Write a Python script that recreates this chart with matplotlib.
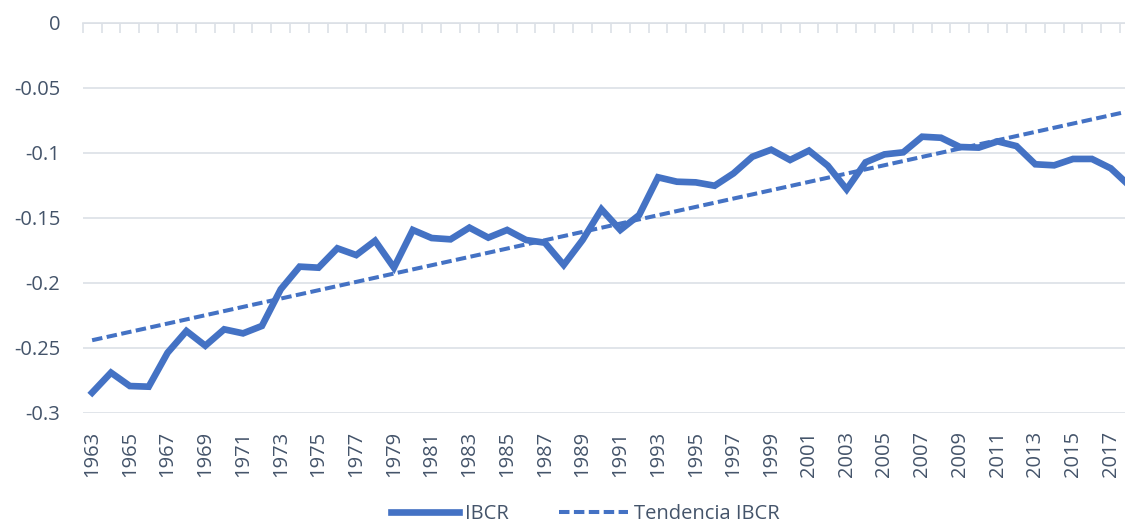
import numpy as np
import matplotlib.pyplot as plt

plt.rcParams["font.family"] = ["Open Sans", "DejaVu Sans"]
plt.rcParams["axes.unicode_minus"] = False

# IBCR series, 1963-2018
years = list(range(1963, 2019))
ibcr = [
    -0.2846, -0.2692, -0.2795, -0.2800, -0.2539, -0.2372, -0.2485, -0.2359,
    -0.2390, -0.2333, -0.2051, -0.1877, -0.1885, -0.1736, -0.1788, -0.1678,
    -0.1885, -0.1595, -0.1657, -0.1667, -0.1577, -0.1654, -0.1595, -0.1672,
    -0.1693, -0.1864, -0.1672, -0.1436, -0.1595, -0.1480, -0.1190, -0.1224,
    -0.1229, -0.1255, -0.1160, -0.1032, -0.0978, -0.1057, -0.0985, -0.1101,
    -0.1283, -0.1075, -0.1014, -0.0998, -0.0878, -0.0886, -0.0957, -0.0962,
    -0.0914, -0.0950, -0.1090, -0.1098, -0.1049, -0.1049, -0.1121, -0.1257,
]
yticks = [0, -0.05, -0.1, -0.15, -0.2, -0.25, -0.3]
ytick_labels = ["0", "-0.05", "-0.1", "-0.15", "-0.2", "-0.25", "-0.3"]

blue = "#4472C4"
grid_color = "#DCE0E6"
text_color = "#44546A"

x = np.arange(len(years))
# linear trend, as in the spreadsheet trendline
coef = np.polyfit(x, ibcr, 1)
trend = np.polyval(coef, x)

fig = plt.figure(figsize=(11.25, 5.26), dpi=100)
ax = fig.add_axes([0.0735, 0.2154, 0.939, 0.7418])

ax.plot(x, ibcr, color=blue, lw=4.8, solid_joinstyle="miter", label="IBCR", zorder=3)
ax.plot(x, trend, color=blue, lw=2.9, linestyle=(0, (2.6, 1.1)), label="Tendencia IBCR", zorder=3)

ax.set_xlim(-0.5, len(years) - 0.5)
ax.set_ylim(-0.3, 0)

ax.set_yticks(yticks)
ax.set_yticklabels(ytick_labels)
ax.grid(axis="y", color=grid_color, lw=1.2)
ax.set_axisbelow(True)

ax.set_xticks(x[::2])
ax.set_xticklabels([str(y) for y in years[::2]], rotation=90)
ax.set_xticks(np.arange(-0.5, len(years), 1), minor=True)
ax.tick_params(axis="x", which="major", length=0, pad=13, labelsize=14.5, colors=text_color)
ax.tick_params(axis="x", which="minor", top=True, bottom=False, direction="in",
               length=7, width=1.2, color=grid_color)
ax.tick_params(axis="y", length=0, pad=16, labelsize=14.5, colors=text_color)

for s in ["left", "right", "bottom"]:
    ax.spines[s].set_visible(False)
ax.spines["top"].set_color(grid_color)
ax.spines["top"].set_linewidth(1.2)

leg = fig.legend(loc="center", bbox_to_anchor=(0.52, 0.022), ncol=2, frameon=False,
                 fontsize=14.5, handlelength=3.4, columnspacing=2.5, handletextpad=0.3,
                 labelcolor=text_color)

fig.savefig("out.png", dpi=100)
